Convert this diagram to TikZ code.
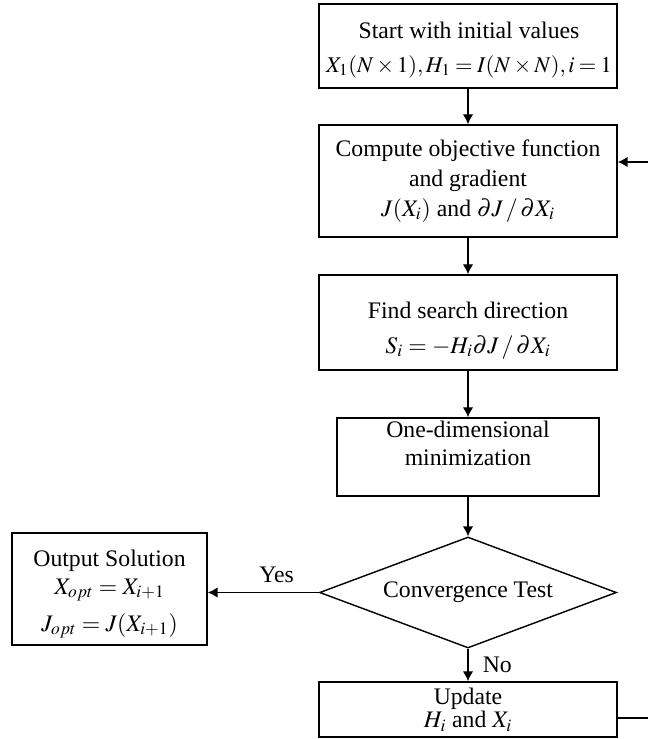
\documentclass[tikz,border=0pt]{standalone}
\usepackage{mathptmx}
\usepackage{fontspec}
\setmainfont{Liberation Serif}
\usetikzlibrary{shapes.geometric, arrows.meta, positioning, calc}
\tikzset{
  proc/.style={rectangle, draw=black, line width=0.8pt, fill=white,
    font=\fontsize{13.5}{17}\selectfont, minimum width=5.96cm,
    align=center, inner sep=2pt},
  dec/.style={diamond, aspect=2.68, draw=black, line width=0.8pt, fill=white,
    font=\fontsize{13.5}{17}\selectfont, minimum width=5.94cm,
    minimum height=2.22cm, align=center, inner sep=0pt},
  ar/.style={-{Latex[length=5.7pt,width=6pt]}, draw=black, line width=0.8pt},
  lb/.style={font=\fontsize{13.5}{16}\selectfont, inner sep=2pt},
  txt/.style={lb, align=center},
}

\begin{document}
\begin{tikzpicture}[x=0.02cm, y=-0.02cm]
\useasboundingbox (0,0) rectangle (647,739);

\node[proc, minimum height=1.68cm,
  label={[txt, yshift=-0.08cm, xshift=0.02cm]center:{Start with initial values\\[3pt]
    {\fontsize{12.8}{16}\selectfont\thickmuskip=3.5mu\medmuskip=2.5mu $X_1(N\times 1), H_1 = I(N\times N), i=1$}}}] (START) at (468,46) {};
\node[proc, minimum height=2.24cm] (CMP) at (468,181)
  {Compute objective function\\ and gradient\\ $J(X_i)$ and $\partial J\,/\,\partial X_i$};
\node[proc, minimum height=1.9cm,
  label={[txt, yshift=-0.16cm]center:{Find search direction\\[4pt] $S_i = -H_i\partial J\,/\,\partial X_i$}}] (FND) at (468,322.5) {};
\node[proc, minimum width=5.24cm, minimum height=1.56cm,
  label={[txt, yshift=0.28cm]center:{One-dimensional\\ minimization}}] (MIN) at (468,457) {};
\node[dec] (CONV) at (468,592.5) {Convergence Test};
\node[proc, minimum width=3.9cm, minimum height=2.24cm,
  label={[txt, yshift=-0.1cm]center:{Output Solution\\ $X_{opt} = X_{i+1}$\\[5pt] $J_{opt} = J(X_{i+1})$}}] (OUT) at (109.5,589) {};
\node[proc, minimum height=1.1cm, font=\fontsize{13.5}{12}\selectfont] (UPD) at (468,709.5)
  {Update\\ $H_i$ and $X_i$};

\draw[ar] (START) -- (CMP);
\draw[ar] (CMP) -- (FND);
\draw[ar] (FND) -- (MIN);
\draw[ar] (MIN) -- (CONV);
\draw[ar] (CONV.west) -- node[lb, above, pos=0.38, yshift=3pt]{Yes} (CONV.west -| OUT.east);
\draw[ar] (CONV.south) -- node[lb, right, xshift=6pt]{No} (UPD.north);
\draw[ar] ($(UPD.east)+(0,8.5)$) -- ++(50,0) |- ($(CMP.east)+(0,-19)$);
\end{tikzpicture}
\end{document}
